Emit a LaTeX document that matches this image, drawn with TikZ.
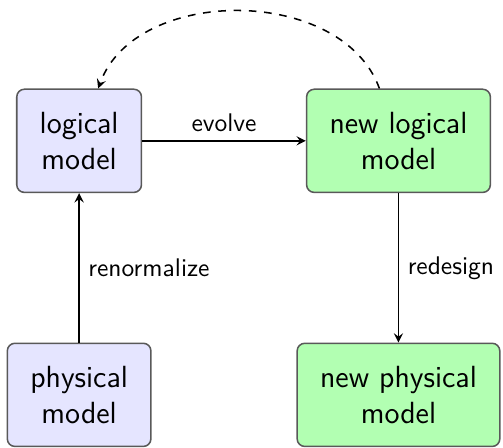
\documentclass[tikz,border=0pt]{standalone}
\usepackage{tikz}
\usetikzlibrary{arrows}
\tikzset{b/.style={draw=black!65,rounded corners=3pt,align=center,inner sep=9pt,font=\large\sffamily}}
\tikzset{o/.style={b,fill=blue!10}}
\tikzset{n/.style={b,fill=green!30}}
\tikzset{l/.style={font=\normalsize\sffamily}}

\begin{document}
\begin{tikzpicture}[>=stealth, semithick]
  \useasboundingbox (-1.09,-4.23) rectangle (5.84,1.94);
  \node [o] (LM) at (0,0) {logical\\model};
  \node [n] (NLM) at (4.4,0) {new logical\\model}
    edge [<-] node [l, above] {evolve} (LM);
  \node [o] (PM) at (0,-3.5) {physical\\model}
    edge [->] node [l, right] {renormalize} (LM);
  \node [n] (NPM) at (4.4,-3.5) {new physical\\model}
    edge [<-] node [l, right] {redesign} (NLM);
  \draw [->, dashed] (NLM) to [bend right=70] (LM);
\end{tikzpicture}
\end{document}
